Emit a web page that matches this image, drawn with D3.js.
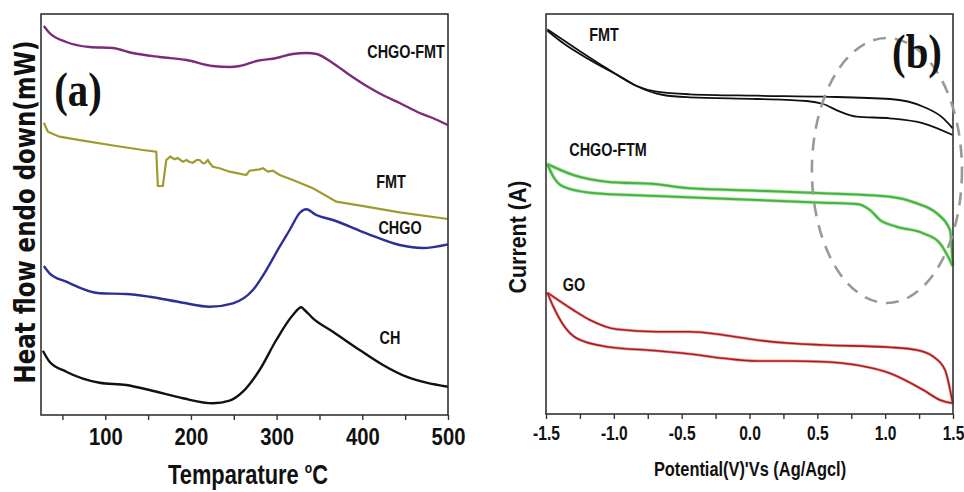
<!DOCTYPE html>
<html>
<head>
<meta charset="utf-8">
<script src="https://cdn.jsdelivr.net/npm/d3@7/dist/d3.min.js"></script>
<style>
  body { margin: 0; background: #fff; }
  svg { display: block; }
  .tick text { font-family: "Liberation Sans", Arial, sans-serif; font-weight: bold; fill: #111; }
  .lbl { font-family: "Liberation Sans", Arial, sans-serif; font-weight: bold; fill: #111; }
</style>
</head>
<body>
<svg id="chart" width="964" height="492"></svg>
<script>
// ---------- panel (a) : DSC curves, [temperature, heat flow (a.u.)] ----------
const tempTicks = [100, 200, 300, 400, 500];
const tempMinor = [50, 150, 250, 350, 450];

const dscCHGOFMT = [[28.3,389],[35,382],[54.5,373],[81.7,368],[108.5,367],[131.9,362],[163.4,358],
  [194.9,355],[225.3,349],[245.1,348],[256.8,349],[276.6,354],[300,357],[318.6,361],[335,362],
  [346.7,361],[365.4,352],[385.2,340],[405,329],[423.7,320],[443.6,312],[467,302],[482.1,297],[499.6,290]];

const dscFMT = [[28.3,292.3],[33,283.3],[46.6,278.3],[73.9,274.3],[112.8,269],[143.9,265],[159.5,263.3],
  [161.4,229],[167.2,229],[171.2,255],[175.9,258.3],[178.6,257],[180.9,255.7],[184.4,257],[190.6,253.3],
  [194.9,255],[198.4,253],[202.3,252.3],[206.6,255],[210.1,255],[213.6,252],[215.9,251.7],[219.8,255],
  [221.8,252],[225.6,248.3],[233.4,246.7],[245.1,243.3],[264.6,240],[268.4,244.3],[280.1,245.7],
  [284,246.7],[289.8,243.3],[295.7,244.3],[303.5,240],[319,235],[342.4,226.7],[369.7,213.3],
  [404.7,208.3],[443.6,202.7],[500,196]];

const dscCHGO = [[28.3,149],[35,141.7],[54.5,133.3],[93.3,121.7],[124.5,121],[151.7,118.3],[190.6,112.3],
  [221.8,108.3],[249,111.7],[272.3,125],[288,145],[303.5,168.3],[315.2,185],[326.9,202],[334.6,205.7],
  [346.3,200],[365.7,195],[404.7,181.7],[443.6,170],[470.4,167],[500,170.7]];

const dscCH = [[27.2,64.3],[35,53.3],[54.5,43.3],[93.3,32.3],[124.5,30],[151.7,25],[190.6,16.7],
  [225.6,11.7],[245.1,14.3],[260.6,23.3],[280.1,45],[299.6,75],[319,100],[328.8,107.7],[332.6,105],
  [342.4,96.7],[365.7,83.3],[396.9,65],[424.1,50],[451.4,38.3],[474.7,32.3],[500,28.3]];

// ---------- panel (b) : CV loops, [potential V, current (a.u.)] ----------
const potTicks = [-1.5, -1.0, -0.5, 0.0, 0.5, 1.0, 1.5];
const potMinor = [-1.25, -0.75, -0.25, 0.25, 0.75, 1.25];

const cvFMTa = [[-1.49,384.7],[-1.299,367.3],[-1.053,345.7],[-0.832,328],[-0.684,322.3],[-0.439,319.7],
  [0.053,318.3],[0.544,317.3],[1.036,315],[1.281,307.3],[1.429,295.7],[1.498,285.7]];
const cvFMTb = [[-1.49,383.3],[-1.372,370.7],[-1.176,354],[-0.930,335.7],[-0.832,328],[-0.635,319],
  [-0.439,316.7],[0.053,315],[0.421,313],[0.544,310],[0.667,302.3],[0.790,297.3],[1.036,295.7],
  [1.281,290.7],[1.498,279]];

const cvCHGOa = [[-1.49,250],[-1.299,239],[-1.053,232.3],[-0.684,229.7],[-0.439,225.7],[0.053,223.3],
  [0.544,220.7],[1.036,217.3],[1.232,210.7],[1.380,200.7],[1.478,184],[1.498,148]];
const cvCHGOb = [[-1.49,250],[-1.446,237.3],[-1.372,227.3],[-1.176,221.3],[-0.684,218],[0.053,214],
  [0.544,211.3],[0.790,210],[0.888,204],[0.962,194],[1.085,187.3],[1.281,180.7],[1.404,170.7],[1.498,148]];

const cvGOa = [[-1.49,121.3],[-1.299,104],[-1.176,94],[-0.979,84.7],[-0.684,82.3],[-0.439,82.3],
  [-0.193,79],[0.053,74],[0.298,70.7],[0.544,69],[1.036,66.7],[1.232,64],[1.355,57.3],[1.441,44],[1.498,10.7]];
const cvGOb = [[-1.49,121.3],[-1.446,107.3],[-1.372,89],[-1.274,75.7],[-1.053,67.3],[-0.684,63.3],
  [-0.439,60],[-0.193,55.7],[0.053,53],[0.298,53],[0.544,52.3],[0.790,49],[1.036,40.7],[1.281,24],
  [1.404,14],[1.498,10.7]];

const svg = d3.select("#chart");
svg.append("rect").attr("width", 964).attr("height", 492).attr("fill", "#fff");

// narrow bold text (no Arial Narrow here, so squeeze Liberation Sans)
function narrow(g, x, y, str, size, sx) {
  return g.append("text").attr("class", "lbl")
    .attr("transform", `translate(${x},${y}) scale(${sx},1)`)
    .attr("text-anchor", "middle").style("font-size", size + "px").text(str);
}

function frame(g, x, y) {
  const [x0, x1] = x.range(), [y0, y1] = y.range();
  g.append("rect").attr("x", x0).attr("y", y1).attr("width", x1 - x0).attr("height", y0 - y1)
    .attr("fill", "none").attr("stroke", "#333").attr("stroke-width", 1.6);
}

function bottomAxis(g, x, y, major, minor, fmt, size, pad, sx) {
  const y0 = y.range()[0];
  const ax = g.append("g").attr("transform", `translate(0,${y0})`)
    .call(d3.axisBottom(x).tickValues(major).tickFormat(fmt).tickSize(5).tickSizeOuter(0).tickPadding(pad));
  ax.select(".domain").remove();
  ax.selectAll(".tick line").attr("stroke", "#333").attr("stroke-width", 1.4);
  ax.selectAll(".tick text").style("font-size", size + "px").attr("transform", `scale(${sx},1)`);
  const mi = g.append("g").attr("transform", `translate(0,${y0})`)
    .call(d3.axisBottom(x).tickValues(minor).tickFormat("").tickSize(5).tickSizeOuter(0));
  mi.select(".domain").remove();
  mi.selectAll(".tick line").attr("stroke", "#333").attr("stroke-width", 1.4);
}

// ----- panel (a)
const xa = d3.scaleLinear().domain([25, 500]).range([41, 448]);
const ya = d3.scaleLinear().domain([0, 401]).range([415, 14]);
const ga = svg.append("g");
const lineA = d3.line().x(d => xa(d[0])).y(d => ya(d[1])).curve(d3.curveMonotoneX);
const lineAlin = d3.line().x(d => xa(d[0])).y(d => ya(d[1]));

ga.append("path").attr("d", lineA(dscCHGOFMT)).attr("fill", "none").attr("stroke", "#7d2a7a").attr("stroke-width", 2.4);
ga.append("path").attr("d", lineAlin(dscFMT)).attr("fill", "none").attr("stroke", "#9f9b2e").attr("stroke-width", 2.2);
ga.append("path").attr("d", lineA(dscCHGO)).attr("fill", "none").attr("stroke", "#2d2f96").attr("stroke-width", 2.4);
ga.append("path").attr("d", lineA(dscCH)).attr("fill", "none").attr("stroke", "#111").attr("stroke-width", 2.4);

frame(ga, xa, ya);
bottomAxis(ga, xa, ya, tempTicks, tempMinor, d3.format("d"), 23, 9, 0.88);

narrow(ga, 406, 58, "CHGO-FMT", 18, 0.8);
narrow(ga, 391, 188, "FMT", 18, 0.8);
narrow(ga, 400, 234, "CHGO", 18, 0.8);
narrow(ga, 390, 344, "CH", 18, 0.8);

ga.append("text").attr("transform", "translate(78,106) scale(0.85,1)").attr("text-anchor", "middle")
  .style("font-family", "'Liberation Serif', serif").style("font-weight", "bold").style("font-size", "48px")
  .attr("fill", "#111").text("(a)");

const xt = narrow(ga, 248, 484, "", 27, 0.81);
xt.append("tspan").text("Temparature ");
xt.append("tspan").attr("dy", -11).style("font-size", "15px").text("o");
xt.append("tspan").attr("dy", 11).text("C");

ga.append("text").attr("transform", "translate(35,212) rotate(-90) scale(1,1.2)").attr("text-anchor", "middle")
  .style("font-family", "'DejaVu Sans', sans-serif").style("font-weight", "bold").style("font-size", "24px")
  .attr("textLength", 343).attr("lengthAdjust", "spacingAndGlyphs").attr("fill", "#111")
  .text("Heat flow endo down(mW)");

// ----- panel (b)
const xb = d3.scaleLinear().domain([-1.5, 1.5]).range([546, 953]);
const yb = d3.scaleLinear().domain([0, 400]).range([414, 14]);
const gb = svg.append("g");
const lineB = d3.line().x(d => xb(d[0])).y(d => yb(d[1])).curve(d3.curveMonotoneX);

[cvGOa, cvGOb].forEach(s => {
  gb.append("path").attr("d", lineB(s)).attr("fill", "none").attr("stroke", "#e06060").attr("stroke-width", 3).attr("opacity", 0.6);
  gb.append("path").attr("d", lineB(s)).attr("fill", "none").attr("stroke", "#a81e20").attr("stroke-width", 1.6);
});
[cvCHGOa, cvCHGOb].forEach(s => {
  gb.append("path").attr("d", lineB(s)).attr("fill", "none").attr("stroke", "#8fd886").attr("stroke-width", 3.6).attr("opacity", 0.7);
  gb.append("path").attr("d", lineB(s)).attr("fill", "none").attr("stroke", "#45b33f").attr("stroke-width", 2);
});
[cvFMTa, cvFMTb].forEach(s => {
  gb.append("path").attr("d", lineB(s)).attr("fill", "none").attr("stroke", "#111").attr("stroke-width", 1.8);
});

frame(gb, xb, yb);
bottomAxis(gb, xb, yb, potTicks, potMinor, d => d.toFixed(1), 20, 7, 0.78);

// dashed ellipse highlighting the redox region
gb.append("ellipse").attr("cx", xb(1.013)).attr("cy", yb(243.5))
  .attr("rx", xb(1.013 + 0.553) - xb(1.013)).attr("ry", yb(243.5) - yb(376))
  .attr("fill", "none").attr("stroke", "#999").attr("stroke-width", 2.6).attr("stroke-dasharray", "13,9");

narrow(gb, 604, 41, "FMT", 18, 0.8);
narrow(gb, 608, 156, "CHGO-FTM", 18, 0.8);
narrow(gb, 574, 291, "GO", 18, 0.8);

gb.append("text").attr("transform", "translate(917,68) scale(0.85,1)").attr("text-anchor", "middle")
  .style("font-family", "'Liberation Serif', serif").style("font-weight", "bold").style("font-size", "48px")
  .attr("fill", "#111").text("(b)");

narrow(gb, 750, 476, "Potential(V)\u02B9Vs (Ag/Agcl)", 21, 0.78);

gb.append("text").attr("transform", "translate(526,237) rotate(-90) scale(1,1.2)").attr("text-anchor", "middle")
  .style("font-family", "'Liberation Sans', sans-serif").style("font-weight", "bold").style("font-size", "20px")
  .attr("textLength", 113).attr("lengthAdjust", "spacingAndGlyphs").attr("fill", "#111")
  .text("Current (A)");
</script>
</body>
</html>
